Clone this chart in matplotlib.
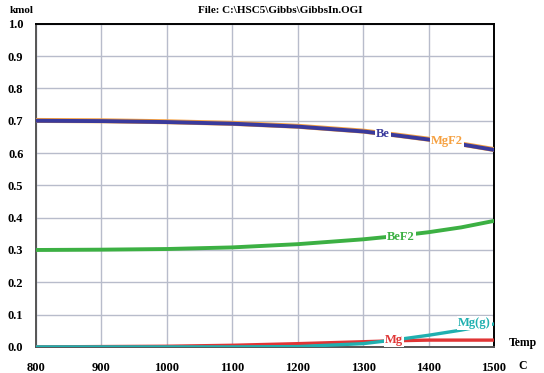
import matplotlib.pyplot as plt
import numpy as np

# temperature (C) and equilibrium amounts (kmol)
temp = [800, 900, 1000, 1100, 1200, 1300, 1350, 1400, 1450, 1500]
be = [0.700, 0.699, 0.696, 0.691, 0.682, 0.667, 0.655, 0.642, 0.627, 0.610]
mgf2 = [0.701, 0.700, 0.697, 0.692, 0.683, 0.668, 0.656, 0.643, 0.628, 0.611]
bef2 = [0.300, 0.301, 0.303, 0.308, 0.318, 0.333, 0.343, 0.355, 0.370, 0.390]
mg = [0.000, 0.001, 0.002, 0.005, 0.010, 0.016, 0.019, 0.021, 0.021, 0.021]
mg_g = [0.000, 0.000, 0.000, 0.000, 0.001, 0.010, 0.022, 0.036, 0.052, 0.071]

font = {"family": "Liberation Serif", "weight": "bold"}

fig = plt.figure(figsize=(5.44, 3.73), dpi=100)
ax = fig.add_axes([0.066, 0.070, 0.842, 0.866])

ax.plot(temp, mgf2, color="#f5a040", lw=3.6, zorder=3)
ax.plot(temp, be, color="#3a3a9c", lw=2.8, zorder=4)
ax.plot(temp, bef2, color="#3cb043", lw=2.8, zorder=3)
ax.plot(temp, mg, color="#e03535", lw=2.4, zorder=3)
ax.plot(temp, mg_g, color="#20b0b0", lw=2.4, zorder=3)

# curve labels
lab = dict(ha="center", va="center", fontsize=9, zorder=5,
           bbox=dict(boxstyle="square,pad=0.1", fc="white", ec="none"), **font)
ax.text(1330, 0.660, "Be", color="#3a3a9c", **lab)
ax.text(1428, 0.638, "MgF2", color="#f5a040", **lab)
ax.text(1358, 0.340, "BeF2", color="#3cb043", **lab)
ax.text(1347, 0.022, "Mg", color="#e03535", **lab)
ax.text(1470, 0.074, "Mg(g)", color="#20b0b0", **lab)

ax.set_xlim(800, 1500)
ax.set_ylim(0, 1.0)
ax.set_xticks(np.arange(800, 1501, 100))
ax.set_yticks(np.arange(0, 1.01, 0.1))
ax.set_yticklabels(["%.1f" % v for v in np.arange(0, 1.01, 0.1)])
ax.grid(True, color="#b8bccb", lw=1.0)
ax.set_axisbelow(True)
ax.tick_params(axis="y", length=0, pad=9)
ax.tick_params(axis="x", length=0, pad=11)
for t in ax.get_xticklabels() + ax.get_yticklabels():
    t.set_fontfamily("Liberation Serif")
    t.set_fontweight("bold")
    t.set_fontsize(9)
for s in ax.spines.values():
    s.set_color("black")
    s.set_linewidth(1.4)
ax.spines["left"].set_color("#555555")
ax.spines["bottom"].set_color("#555555")

fig.text(0.018, 0.985, "kmol", fontsize=8, va="top", ha="left", **font)
fig.text(0.515, 0.985, "File: C:\\HSC5\\Gibbs\\GibbsIn.OGI", fontsize=8,
         va="top", ha="center", **font)
fig.text(0.935, 0.080, "Temp", fontsize=8.5, va="center", ha="left", **font)
fig.text(0.952, 0.020, "C", fontsize=8.5, va="center", ha="left", **font)

fig.savefig("out.png", dpi=100)
